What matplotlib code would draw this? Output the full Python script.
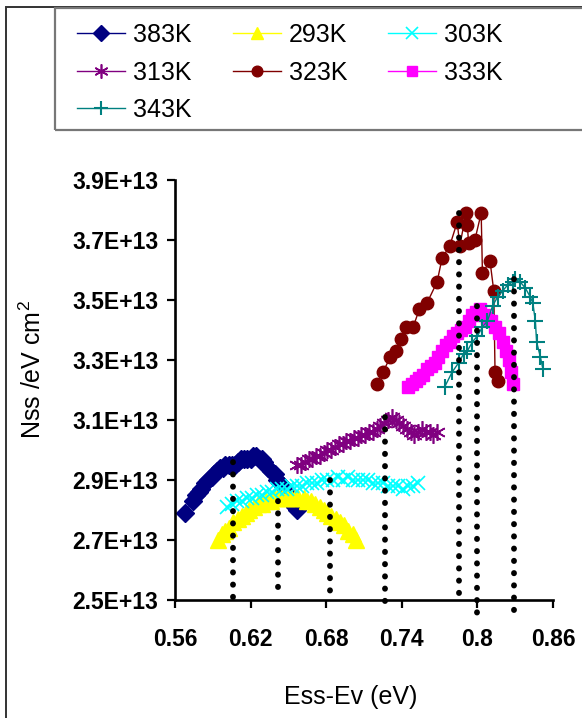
import numpy as np
import matplotlib.pyplot as plt
from matplotlib.patches import Rectangle
from matplotlib.ticker import FuncFormatter

plt.rcParams['font.family'] = ['Liberation Sans', 'DejaVu Sans']
plt.rcParams['mathtext.default'] = 'regular'

# interface state density Nss (in units of 1E+13 /eV cm^2) against Ess-Ev (eV)
x383 = [0.568, 0.574, 0.577, 0.579, 0.581, 0.584, 0.586, 0.589, 0.591, 0.593,
        0.596, 0.598, 0.600, 0.603, 0.605, 0.608, 0.610, 0.612, 0.615, 0.617,
        0.620, 0.622, 0.624, 0.627, 0.629, 0.631, 0.634, 0.636, 0.639, 0.641,
        0.643, 0.646, 0.648, 0.650, 0.653, 0.655, 0.657]
y383 = [2.79, 2.83, 2.85, 2.86, 2.87, 2.89, 2.90, 2.91, 2.92, 2.93,
        2.94, 2.94, 2.95, 2.95, 2.95, 2.95, 2.96, 2.97, 2.97, 2.97,
        2.97, 2.98, 2.98, 2.97, 2.97, 2.96, 2.94, 2.93, 2.92, 2.90,
        2.89, 2.88, 2.86, 2.85, 2.83, 2.81, 2.80]

x293 = [0.594, 0.597, 0.600, 0.603, 0.606, 0.610, 0.613, 0.616, 0.619, 0.623,
        0.626, 0.629, 0.632, 0.636, 0.639, 0.642, 0.645, 0.649, 0.652, 0.655,
        0.658, 0.662, 0.665, 0.668, 0.671, 0.675, 0.678, 0.681, 0.684, 0.688,
        0.691, 0.694, 0.697, 0.701, 0.704]
y293 = [2.70, 2.72, 2.73, 2.74, 2.76, 2.77, 2.78, 2.79, 2.80, 2.81,
        2.82, 2.82, 2.83, 2.83, 2.84, 2.84, 2.84, 2.84, 2.84, 2.84,
        2.84, 2.84, 2.83, 2.83, 2.82, 2.81, 2.80, 2.79, 2.78, 2.77,
        2.76, 2.75, 2.73, 2.72, 2.70]

x303 = [0.601, 0.605, 0.609, 0.613, 0.617, 0.621, 0.625, 0.629, 0.633, 0.637,
        0.641, 0.645, 0.649, 0.653, 0.657, 0.661, 0.665, 0.669, 0.673, 0.677,
        0.681, 0.685, 0.689, 0.693, 0.697, 0.701, 0.705, 0.709, 0.713, 0.717,
        0.721, 0.725, 0.729, 0.733, 0.737, 0.741, 0.745, 0.749, 0.753]
y303 = [2.81, 2.82, 2.83, 2.83, 2.84, 2.84, 2.85, 2.85, 2.86, 2.86,
        2.87, 2.87, 2.87, 2.88, 2.88, 2.88, 2.89, 2.89, 2.89, 2.90,
        2.90, 2.90, 2.91, 2.90, 2.91, 2.90, 2.90, 2.90, 2.90, 2.89,
        2.89, 2.89, 2.88, 2.88, 2.88, 2.87, 2.88, 2.88, 2.89]

x313 = [0.657, 0.660, 0.663, 0.666, 0.669, 0.672, 0.675, 0.678, 0.681, 0.684,
        0.687, 0.690, 0.693, 0.696, 0.699, 0.702, 0.705, 0.708, 0.711, 0.714,
        0.717, 0.720, 0.723, 0.726, 0.729, 0.732, 0.735, 0.738, 0.741, 0.744,
        0.747, 0.750, 0.753, 0.756, 0.759, 0.762, 0.765, 0.768]
y313 = [2.95, 2.95, 2.96, 2.97, 2.97, 2.98, 2.98, 2.99, 3.00, 3.00,
        3.01, 3.02, 3.02, 3.03, 3.03, 3.04, 3.04, 3.05, 3.05, 3.06,
        3.06, 3.07, 3.08, 3.09, 3.10, 3.11, 3.10, 3.09, 3.08, 3.07,
        3.06, 3.05, 3.06, 3.07, 3.06, 3.06, 3.05, 3.06]

x323 = [0.720, 0.725, 0.731, 0.735, 0.739, 0.743, 0.749, 0.754, 0.760, 0.768,
        0.772, 0.778, 0.784, 0.786, 0.791, 0.792, 0.793, 0.798, 0.803, 0.804,
        0.810, 0.813, 0.814, 0.816]
y323 = [3.22, 3.26, 3.31, 3.33, 3.37, 3.41, 3.41, 3.47, 3.49, 3.56,
        3.64, 3.68, 3.76, 3.68, 3.79, 3.75, 3.69, 3.70, 3.79, 3.59,
        3.63, 3.53, 3.26, 3.23]

x333 = [0.745, 0.748, 0.751, 0.754, 0.757, 0.760, 0.763, 0.766, 0.769, 0.772,
        0.775, 0.778, 0.781, 0.784, 0.787, 0.790, 0.793, 0.796, 0.799, 0.802,
        0.805, 0.808, 0.811, 0.814, 0.817, 0.820, 0.823, 0.825, 0.827, 0.828]
y333 = [3.21, 3.22, 3.23, 3.24, 3.25, 3.27, 3.28, 3.29, 3.31, 3.33,
        3.35, 3.36, 3.38, 3.39, 3.40, 3.41, 3.43, 3.45, 3.46, 3.47,
        3.45, 3.44, 3.43, 3.41, 3.39, 3.36, 3.33, 3.30, 3.26, 3.22]

x343 = [0.774, 0.780, 0.785, 0.789, 0.792, 0.796, 0.800, 0.804, 0.808, 0.812,
        0.816, 0.820, 0.824, 0.828, 0.830, 0.834, 0.838, 0.842, 0.844, 0.846,
        0.847, 0.850, 0.852]
y343 = [3.21, 3.26, 3.29, 3.32, 3.33, 3.36, 3.38, 3.41, 3.43, 3.48,
        3.51, 3.53, 3.55, 3.56, 3.57, 3.56, 3.54, 3.51, 3.49, 3.43,
        3.36, 3.31, 3.27]

# dotted drop lines under the selected points
drop_x = [0.606, 0.642, 0.683, 0.727, 0.785, 0.800, 0.829]
drop_top = [2.96, 2.83, 2.90, 3.11, 3.79, 3.48, 3.57]
drop_bottom = [2.48, 2.51, 2.50, 2.46, 2.51, 2.44, 2.44]

series = [
    ('383K', x383, y383, '#000080', 'D', 9, 1.0),
    ('293K', x293, y293, '#FFFF00', '^', 11, 1.0),
    ('303K', x303, y303, '#00FFFF', 'x', 10, 1.2),
    ('313K', x313, y313, '#800080', (6, 2, 0), 12, 1.2),
    ('323K', x323, y323, '#800000', 'o', 9, 1.0),
    ('333K', x333, y333, '#FF00FF', 's', 8.5, 1.0),
    ('343K', x343, y343, '#008080', '+', 12, 1.5),
]

fig = plt.figure(figsize=(5.82, 7.18), dpi=100)
W, H = 582, 718
ax = fig.add_axes([175 / W, 1 - 600 / H, (553 - 175) / W, (600 - 180) / H])

handles = {}
for name, xs, ys, col, mk, ms, mew in series:
    ln, = ax.plot(xs, ys, color=col, lw=1.0, marker=mk, ms=ms,
                  mfc=col, mec=col, mew=mew, label=name, clip_on=False)
    handles[name] = ln

for xd, yb, yt in zip(drop_x, drop_bottom, drop_top):
    ax.plot([xd, xd], [yt, yb], color='black', lw=4.2, dashes=(0.05, 2.05),
            dash_capstyle='round', zorder=5, clip_on=False)

ax.set_xlim(0.56, 0.86)
ax.set_ylim(2.5, 3.9)
ax.set_xticks([0.56, 0.62, 0.68, 0.74, 0.80, 0.86])
ax.set_yticks([2.5, 2.7, 2.9, 3.1, 3.3, 3.5, 3.7, 3.9])
ax.xaxis.set_major_formatter(FuncFormatter(lambda v, p: f'{v:g}'))
ax.yaxis.set_major_formatter(FuncFormatter(lambda v, p: f'{v:.1f}E+13'))

for s in ['top', 'right']:
    ax.spines[s].set_visible(False)
for s in ['left', 'bottom']:
    ax.spines[s].set_linewidth(1.9)
ax.tick_params(direction='out', length=5.8, width=1.6, labelsize=16.5)
ax.tick_params(axis='x', pad=14)
ax.tick_params(axis='y', pad=6)
for lab in ax.get_xticklabels() + ax.get_yticklabels():
    lab.set_fontweight('bold')

fig.text(33 / W, 1 - 370 / H, 'Nss /eV cm$^2$', rotation=90,
         ha='center', va='center', fontsize=18)
fig.text(351 / W, 1 - 697 / H, 'Ess-Ev (eV)', ha='center', va='center',
         fontsize=18)

# legend, filled row by row
order = ['383K', '313K', '343K', '293K', '323K', '303K', '333K']
fig.legend([handles[k] for k in order], order, ncol=3, frameon=False,
           loc='upper left', bbox_to_anchor=(77 / W, 1 - 23 / H),
           borderpad=0, borderaxespad=0, fontsize=18, handlelength=1.92,
           handletextpad=0.32, columnspacing=1.64, labelspacing=0.54,
           markerscale=0.85)

# outer chart frame and legend box
fig.add_artist(Rectangle((6 / W, -0.1), 1.2, 1.1 - 7 / H, transform=fig.transFigure,
                         fill=False, edgecolor='#333333', lw=1.4))
fig.add_artist(Rectangle((55 / W, 1 - 130 / H), 1.2, 122 / H,
                         transform=fig.transFigure, fill=False,
                         edgecolor='#777777', lw=1.6))

fig.savefig('out.png', dpi=100)
